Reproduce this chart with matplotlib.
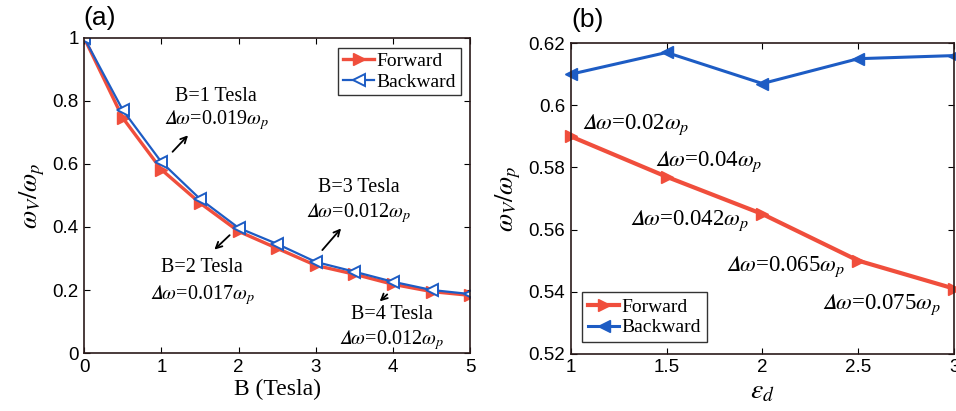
import matplotlib.pyplot as plt
import numpy as np

plt.rcParams['mathtext.fontset'] = 'stix'

# panel (a): frequency vs magnetic field
B_tesla = [0, 0.5, 1, 1.5, 2, 2.5, 3, 3.5, 4, 4.5, 5]
fwd_a = [1.0, 0.746, 0.582, 0.476, 0.386, 0.332, 0.278, 0.250, 0.218, 0.195, 0.183]
bwd_a = [1.0, 0.771, 0.606, 0.489, 0.397, 0.346, 0.289, 0.258, 0.226, 0.200, 0.187]

# panel (b): frequency vs dielectric constant
eps_d = [1, 1.5, 2, 2.5, 3]
fwd_b = [0.590, 0.577, 0.565, 0.550, 0.541]
bwd_b = [0.610, 0.617, 0.607, 0.615, 0.616]

rojo = '#f04e3c'
azul = '#1d5cc4'
serif = 'Liberation Serif'
sans = 'Liberation Sans'
dw = '$\U0001D6E5\\omega$'   # delta cursiva (bloque matematico)

fig = plt.figure(figsize=(9.56, 4.11), dpi=100)
ax1 = fig.add_axes([0.088, 0.141, 0.404, 0.767])
ax2 = fig.add_axes([0.597, 0.139, 0.401, 0.756])

ax1.plot(B_tesla, fwd_a, color=rojo, lw=2.4, marker='>', ms=8, mfc=rojo, mec=rojo, label='Forward')
ax1.plot(B_tesla, bwd_a, color=azul, lw=1.6, marker='<', ms=8, mfc='white', mec=azul, mew=1.4, label='Backward')
ax1.set_xlim(0, 5)
ax1.set_ylim(0, 1)
ax1.set_xticks([0, 1, 2, 3, 4, 5])
ax1.set_yticks([0, 0.2, 0.4, 0.6, 0.8, 1])
ax1.set_yticklabels(['0', '0.2', '0.4', '0.6', '0.8', '1'])
ax1.set_xlabel('B (Tesla)', fontsize=17, family=serif, labelpad=2)
ax1.set_ylabel(r'$\omega_V/\omega_p$', fontsize=19, labelpad=4)

ax2.plot(eps_d, fwd_b, color=rojo, lw=3, marker='>', ms=8, mfc=rojo, mec=rojo, label='Forward', clip_on=False)
ax2.plot(eps_d, bwd_b, color=azul, lw=2.2, marker='<', ms=8, mfc=azul, mec=azul, label='Backward', clip_on=False)
ax2.set_xlim(1, 3)
ax2.set_ylim(0.52, 0.62)
ax2.set_xticks([1, 1.5, 2, 2.5, 3])
ax2.set_xticklabels(['1', '1.5', '2', '2.5', '3'])
ax2.set_yticks(np.arange(0.52, 0.6201, 0.02))
ax2.set_yticklabels(['0.52', '0.54', '0.56', '0.58', '0.6', '0.62'])
ax2.set_xlabel(r'$\varepsilon_d$', fontsize=20, labelpad=0)
ax2.set_ylabel(r'$\omega_V/\omega_p$', fontsize=19, labelpad=4)

for ax in (ax1, ax2):
    ax.tick_params(direction='in', top=True, right=True, length=4, labelsize=13.5, pad=4)
    for lab in ax.get_xticklabels() + ax.get_yticklabels():
        lab.set_family(sans)
    for s in ax.spines.values():
        s.set_color('#2a1a1a')
        s.set_linewidth(1.2)

leg1 = ax1.legend(loc='upper right', prop={'family': serif, 'size': 14}, fancybox=False,
                  edgecolor='black', handlelength=1.6, handletextpad=0.1, borderpad=0.25,
                  labelspacing=0.15, borderaxespad=0.5)
leg1.get_frame().set_linewidth(1.0)
leg2 = ax2.legend(loc='lower left', prop={'family': serif, 'size': 14}, fancybox=False,
                  edgecolor='black', handlelength=1.6, handletextpad=0.1, borderpad=0.3,
                  labelspacing=0.15, borderaxespad=0.6)
leg2.get_frame().set_linewidth(1.0)

# anotaciones del panel (a)
notas_a = [
    (1.71, 0.813, 0.74, 'B=1 Tesla', dw + r'=0.019$\omega_p$'),
    (1.53, 0.270, 0.184, 'B=2 Tesla', dw + r'=0.017$\omega_p$'),
    (3.55, 0.524, 0.444, 'B=3 Tesla', dw + r'=0.012$\omega_p$'),
    (3.98, 0.121, 0.041, 'B=4 Tesla', dw + r'=0.012$\omega_p$'),
]
for x, y1, y2, t1, t2 in notas_a:
    ax1.text(x, y1, t1, fontsize=14.5, family=serif, ha='center', va='center')
    ax1.text(x, y2, t2, fontsize=14.5, family=serif, ha='center', va='center')

flechas_a = [
    ((1.12, 0.632), (1.37, 0.697)),
    ((1.91, 0.380), (1.66, 0.322)),
    ((3.06, 0.320), (3.35, 0.402)),
    ((3.95, 0.192), (3.80, 0.158)),
]
for ini, fin in flechas_a:
    ax1.annotate('', xy=fin, xytext=ini,
                 arrowprops=dict(arrowstyle='->', color='black', lw=1.3, mutation_scale=11))

# anotaciones del panel (b)
notas_b = [
    (1.34, 0.5936, dw + r'=0.02$\omega_p$'),
    (1.72, 0.5817, dw + r'=0.04$\omega_p$'),
    (1.62, 0.5630, dw + r'=0.042$\omega_p$'),
    (2.12, 0.5480, dw + r'=0.065$\omega_p$'),
    (2.62, 0.5358, dw + r'=0.075$\omega_p$'),
]
for x, y, t in notas_b:
    ax2.text(x, y, t, fontsize=16.5, family=serif, ha='center', va='center')

fig.text(0.087, 0.957, '(a)', fontsize=19, family=sans, ha='left', va='center')
fig.text(0.598, 0.952, '(b)', fontsize=19, family=sans, ha='left', va='center')

plt.savefig('out.png', dpi=100)
